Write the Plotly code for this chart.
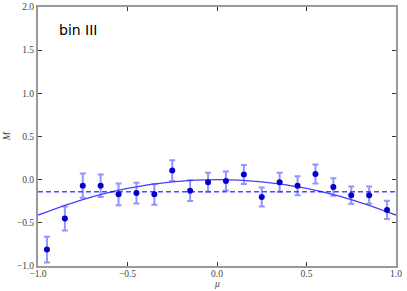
import plotly.graph_objects as go

mu = [-0.95, -0.85, -0.75, -0.65, -0.55, -0.45, -0.35, -0.25, -0.15, -0.05,
      0.05, 0.15, 0.25, 0.35, 0.45, 0.55, 0.65, 0.75, 0.85, 0.95]
M = [-0.81, -0.45, -0.07, -0.07, -0.17, -0.155, -0.17, 0.105, -0.128, -0.03,
     -0.015, 0.06, -0.20, -0.03, -0.07, 0.065, -0.085, -0.18, -0.18, -0.35]
M_err = [0.15, 0.14, 0.14, 0.13, 0.125, 0.12, 0.12, 0.12, 0.12, 0.11,
         0.11, 0.11, 0.11, 0.11, 0.11, 0.11, 0.10, 0.10, 0.10, 0.105]

fit_mu = [-1.0, -0.75, -0.5, -0.25, 0.0, 0.25, 0.5, 0.75, 1.0]
fit_M = [-0.41, -0.23, -0.10, -0.025, 0.0, -0.025, -0.10, -0.23, -0.41]

mean_mu = [-1.0, 1.0]
mean_M = [-0.14, -0.14]

xticks = [-1.0, -0.5, 0.0, 0.5, 1.0]
yticks = [-1.0, -0.5, 0.0, 0.5, 1.0, 1.5, 2.0]

def lab(v):
    s = f"{v:.1f}"
    return s.replace("-", "\u2212")

fig = go.Figure()
fig.add_trace(go.Scatter(x=fit_mu, y=fit_M, mode="lines", line_shape="spline",
                         line=dict(color="rgba(0,0,255,0.75)", width=1.3),
                         showlegend=False, hoverinfo="skip"))
fig.add_trace(go.Scatter(x=mean_mu, y=mean_M, mode="lines",
                         line=dict(color="rgba(0,0,255,0.7)", width=1.3, dash="5px,3px"),
                         showlegend=False, hoverinfo="skip"))
fig.add_trace(go.Scatter(x=mu, y=M, mode="markers",
                         marker=dict(color="#0000c8", size=6),
                         error_y=dict(type="data", array=M_err, color="rgba(60,60,255,0.55)",
                                      thickness=2, width=3),
                         showlegend=False))

axis_common = dict(showgrid=False, zeroline=False, showline=True, linecolor="#999999",
                   linewidth=2, mirror="ticks", ticks="inside", ticklen=4,
                   tickcolor="#333333", tickwidth=1, automargin=False,
                   tickfont=dict(family="Liberation Serif", size=9.5, color="#444444"))

fig.update_layout(
    width=407, height=291,
    margin=dict(l=38, r=11, t=7, b=25),
    paper_bgcolor="white", plot_bgcolor="white",
    xaxis=dict(range=[-1.0, 1.0], tickvals=xticks, ticktext=[lab(v) for v in xticks],
               ticklabelstandoff=-2, **axis_common),
    yaxis=dict(range=[-1.0, 2.0], tickvals=yticks, ticktext=[lab(v) for v in yticks],
               ticklabelstandoff=0, **axis_common),
    annotations=[
        dict(text="bin III", x=0.053, y=0.91, xref="paper", yref="paper",
             xanchor="left", yanchor="middle", showarrow=False,
             font=dict(family="DejaVu Sans", size=14, color="black")),
        dict(text="<i>\u03bc</i>", x=0.5, y=-0.07, xref="paper", yref="paper",
             xanchor="center", yanchor="middle", borderpad=0,
             showarrow=False, font=dict(family="Liberation Serif", size=9.5, color="#444444")),
        dict(text="<i>M</i>", x=-0.087, y=0.5, xref="paper", yref="paper", textangle=-90,
             xanchor="center", yanchor="middle", showarrow=False,
             font=dict(family="Liberation Serif", size=10, color="#444444")),
    ],
)

fig.write_html("out.html", post_script="document.body.style.margin='0';",
               config={"displayModeBar": False})
